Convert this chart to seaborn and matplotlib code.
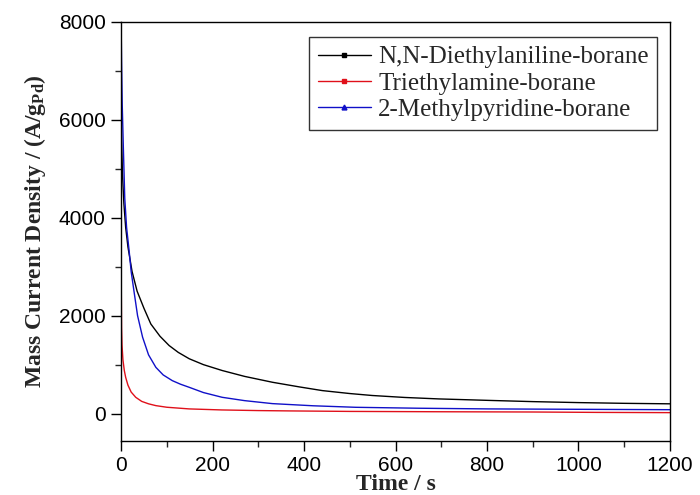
import pandas as pd
import seaborn as sns
from matplotlib import pyplot as plt
from matplotlib.lines import Line2D
from matplotlib.ticker import MultipleLocator

# values (time in s, current in A/g_Pd)
t_dea = [0, 1, 3, 6, 10, 15, 24, 35, 50, 65, 85, 105, 125, 149, 180, 221, 270, 331,
         390, 440, 500, 549, 620, 695, 750, 804, 900, 1000, 1100, 1200]
j_dea = [6300, 5600, 4900, 4300, 3800, 3400, 2900, 2500, 2150, 1830, 1580, 1390, 1250, 1120,
         1000, 880, 760, 640, 545, 470, 410, 370, 330, 300, 285, 270, 245, 225, 210, 200]

t_tea = [0, 0.5, 1, 2, 4, 7, 10, 15, 22, 32, 45, 60, 76, 100, 149, 220, 300, 370,
         500, 700, 900, 1040, 1200]
j_tea = [3200, 2400, 1750, 1400, 1100, 880, 740, 580, 440, 333, 250, 200, 163, 130, 96,
         75, 62, 55, 45, 38, 33, 25, 20]

t_mpb = [0, 1, 2.5, 5, 8, 12, 17.5, 22, 28, 36, 47, 60, 76, 92, 112, 130, 149, 180,
         221, 270, 331, 420, 513, 650, 804, 1000, 1200]
j_mpb = [8000, 7200, 6300, 5400, 4400, 3800, 3330, 2900, 2510, 2000, 1560, 1200, 945, 790,
         673, 600, 537, 430, 333, 265, 204, 160, 129, 110, 96, 88, 80]

labels = ["N,N-Diethylaniline-borane", "Triethylamine-borane", "2-Methylpyridine-borane"]
colors = ["#000000", "#e0101a", "#1010c8"]
markers = ["s", "s", "^"]

df = pd.concat([
    pd.DataFrame({"time": t_dea, "j": j_dea, "sample": labels[0]}),
    pd.DataFrame({"time": t_tea, "j": j_tea, "sample": labels[1]}),
    pd.DataFrame({"time": t_mpb, "j": j_mpb, "sample": labels[2]}),
])

sns.set_style("ticks")
plt.rcParams["font.family"] = ["Liberation Sans", "DejaVu Sans"]
plt.rcParams["mathtext.default"] = "regular"

fig = plt.figure(figsize=(7, 4.95), dpi=100)
ax = fig.add_axes([0.173, 0.109, 0.784, 0.847])

sns.lineplot(df, x="time", y="j", hue="sample", hue_order=labels,
             palette=dict(zip(labels, colors)), linewidth=1.0, legend=False,
             sort=False, estimator=None, ax=ax)

ax.set_xlim(0, 1200)
ax.set_ylim(-560, 8000)
ax.xaxis.set_major_locator(MultipleLocator(200))
ax.xaxis.set_minor_locator(MultipleLocator(100))
ax.yaxis.set_major_locator(MultipleLocator(2000))
ax.yaxis.set_minor_locator(MultipleLocator(1000))
ax.tick_params(which="major", direction="out", length=7, width=1, labelsize=15,
               colors="black", pad=4)
ax.tick_params(which="minor", direction="out", length=4, width=1)
for s in ax.spines.values():
    s.set_linewidth(1.0)
    s.set_color("black")

ax.set_xlabel("Time / s", fontfamily="Liberation Serif", fontweight="bold", fontsize=17,
              labelpad=-1)
ax.set_ylabel("Mass Current Density / (A/g$_{Pd}$)", fontfamily="Liberation Serif",
              fontweight="bold", fontsize=17, labelpad=8)

handles = [Line2D([], [], color=c, marker=m, markersize=3.5, linewidth=1.0)
           for c, m in zip(colors, markers)]
leg = ax.legend(handles, labels, loc="upper right", bbox_to_anchor=(1.0, 0.993),
                prop={"family": "Liberation Serif", "size": 18}, frameon=True,
                fancybox=False, edgecolor="black", handlelength=2.1, labelspacing=0.15,
                borderpad=0.35, handletextpad=0.3)
leg.get_frame().set_linewidth(1.0)

fig.savefig("out.png", dpi=100)
